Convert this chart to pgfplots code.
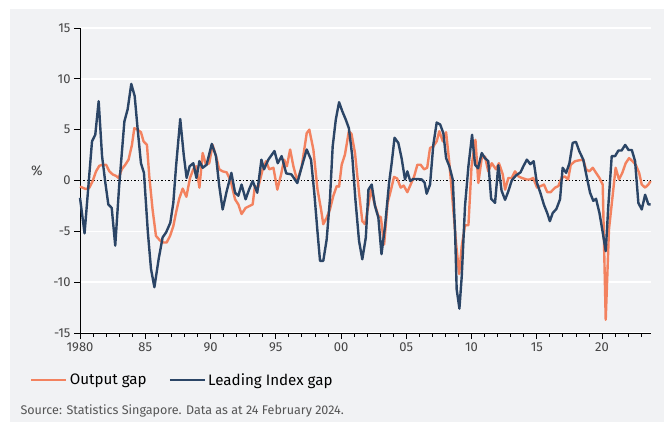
\documentclass[border=0pt]{standalone}
\usepackage{pgfplots}
\pgfplotsset{compat=1.18}
\usepackage{fontspec}
\setmainfont{Fira Sans}
\definecolor{bggrey}{RGB}{241,242,244}
\definecolor{ogap}{RGB}{243,130,95}
\definecolor{lgap}{RGB}{43,69,102}
\definecolor{ticktext}{RGB}{68,68,68}
\definecolor{srctext}{RGB}{85,85,85}
\begin{document}
\begin{tikzpicture}
\path[use as bounding box] (0,0) rectangle (664bp,422bp);
\fill[white] (0,0) rectangle (664bp,422bp);
\fill[bggrey] (10bp,0) rectangle (664bp,413bp);
\begin{axis}[
  at={(80bp,89bp)}, anchor=south west,
  scale only axis, width=571bp, height=305bp,
  xmin=1980, xmax=2023.75, ymin=-15, ymax=15,
  axis x line*=bottom, axis y line*=left,
  axis line style={black, line width=0.9bp, -},
  xtick={1980,1985,...,2020},
  xticklabels={1980,85,90,95,00,05,10,15,20},
  minor xtick={1981,...,2023},
  ytick={-15,-10,-5,5,10,15},
  yticklabels={-15,-10,-5,5,10,15},
  extra y ticks={0}, extra y tick labels={0},
  extra y tick style={grid=major, major grid style={black, dotted, line width=1.4bp}},
  ymajorgrids, major grid style={white, line width=1.4bp},
  tick align=outside,
  major tick length=6bp, minor tick length=4bp,
  tick style={black, line width=0.8bp},
  every tick label/.append style={font=\fontsize{13}{15}\selectfont, text=ticktext},
  legend style={at={(-0.0876,-0.154)}, anchor=west, draw=none, fill=none,
    font=\fontsize{15.2}{18}\selectfont, legend columns=2, inner sep=0pt,
    /tikz/every even column/.append style={column sep=20bp}},
  legend image code/.code={\draw[#1, line width=2.6bp] (0bp,0bp) -- (35bp,0bp);},
  legend cell align=left,
  clip=false,
]
\addplot[ogap, line width=2.4bp, line join=round] coordinates {
(1980.0,-0.6) (1980.46,-0.85) (1980.72,-0.7) (1980.97,-0.05) (1981.23,0.9) (1981.48,1.45) (1981.74,1.55) (1982.0,1.55)
(1982.25,0.9) (1982.5,0.6) (1982.76,0.45) (1982.96,0.25) (1983.2,1.1) (1983.47,1.55) (1983.72,2.05) (1983.98,3.5)
(1984.16,5.15) (1984.4,5.0) (1984.67,4.75) (1984.87,3.85) (1985.13,3.5) (1985.31,0.4) (1985.56,-2.85) (1985.82,-5.45)
(1986.13,-5.9) (1986.38,-6.1) (1986.64,-6.1) (1986.9,-5.45) (1987.15,-4.5) (1987.35,-3.2) (1987.6,-1.8) (1987.87,-0.8)
(1988.15,-1.6) (1988.43,0.25) (1988.68,1.1) (1988.9,1.4) (1989.15,-0.7) (1989.4,2.7) (1989.65,1.55) (1989.9,1.7)
(1990.16,3.5) (1990.42,2.4) (1990.67,1.1) (1990.93,0.9) (1991.24,0.8) (1991.55,-0.05) (1991.88,-1.85) (1992.13,-2.35)
(1992.38,-3.3) (1992.69,-2.7) (1993.0,-2.5) (1993.23,-2.35) (1993.4,-0.55) (1993.65,-0.7) (1994.0,1.1) (1994.25,1.9)
(1994.5,1.1) (1994.82,1.25) (1995.12,-0.9) (1995.4,0.55) (1995.64,2.05) (1995.85,1.4) (1996.1,3.05) (1996.35,1.4)
(1996.65,-0.05) (1996.99,1.4) (1997.37,4.65) (1997.57,5.0) (1997.88,3.05) (1998.2,-0.9) (1998.47,-2.85) (1998.64,-4.3)
(1998.9,-3.65) (1999.15,-2.85) (1999.4,-1.55) (1999.67,-0.55) (1999.85,-0.6) (2000.05,1.55) (2000.3,2.55) (2000.6,4.85)
(2000.8,4.6) (2001.07,2.7) (2001.38,-1.2) (2001.63,-4.0) (2001.84,-4.3) (2002.09,-2.5) (2002.3,-0.9) (2002.55,-2.2)
(2002.86,-3.5) (2003.05,-3.6) (2003.3,-6.3) (2003.57,-2.2) (2003.83,-0.9) (2004.06,0.35) (2004.3,0.2) (2004.57,-0.7)
(2004.8,-0.5) (2005.08,-1.15) (2005.3,-0.5) (2005.6,0.4) (2005.85,1.55) (2006.1,1.55) (2006.36,1.1) (2006.6,1.25)
(2006.82,3.2) (2007.07,3.35) (2007.33,3.85) (2007.53,4.85) (2007.8,3.85) (2008.05,4.75) (2008.3,1.7) (2008.56,-2.2)
(2008.81,-6.1) (2009.05,-9.2) (2009.25,-6.45) (2009.5,-4.4) (2009.76,-4.4) (2010.0,1.4) (2010.3,4.0) (2010.52,-0.25)
(2010.78,2.2) (2011.03,2.35) (2011.28,0.9) (2011.55,1.7) (2011.87,1.1) (2012.1,1.7) (2012.39,0.6) (2012.57,-0.9)
(2012.82,0.25) (2013.08,0.25) (2013.33,0.9) (2013.6,0.4) (2013.85,0.25) (2014.22,0.1) (2014.47,0.1) (2014.72,0.25)
(2015.02,-0.7) (2015.3,-0.55) (2015.55,-0.4) (2015.8,-1.15) (2016.06,-1.15) (2016.4,-0.7) (2016.65,-0.55) (2016.9,0.25)
(2017.15,0.4) (2017.4,0.1) (2017.6,1.55) (2017.93,1.9) (2018.3,2.0) (2018.56,2.05) (2018.77,1.1) (2019.03,0.9)
(2019.29,1.25) (2019.54,0.75) (2019.8,0.25) (2020.05,-0.4) (2020.28,-13.7) (2020.53,-4.8) (2020.78,-1.85) (2021.04,1.25)
(2021.3,0.1) (2021.55,0.75) (2021.81,1.7) (2022.07,2.2) (2022.33,1.9) (2022.58,1.55) (2022.84,0.75) (2023.04,-0.4)
(2023.3,-0.7) (2023.55,-0.4) (2023.72,-0.05)
};
\addlegendentry{Output gap}
\addplot[lgap, line width=2.4bp, line join=round] coordinates {
(1980.0,-1.7) (1980.35,-5.2) (1980.92,3.85) (1981.17,4.5) (1981.43,7.8) (1981.69,2.4) (1981.94,-0.2) (1982.17,-2.35)
(1982.43,-2.7) (1982.7,-6.4) (1983.0,-0.55) (1983.4,5.8) (1983.65,7.0) (1983.93,9.5) (1984.19,8.3) (1984.4,5.3)
(1984.67,1.7) (1984.9,0.75) (1985.2,-5.1) (1985.44,-8.7) (1985.7,-10.5) (1986.03,-7.7) (1986.33,-5.6) (1986.6,-5.1)
(1986.92,-4.15) (1987.15,-2.2) (1987.36,1.4) (1987.68,6.05) (1987.95,2.5) (1988.17,0.25) (1988.4,1.4) (1988.68,1.7)
(1988.92,0.25) (1989.15,1.9) (1989.4,1.25) (1989.7,1.55) (1990.1,3.6) (1990.42,2.4) (1990.67,-0.55) (1990.93,-2.85)
(1991.24,-1.05) (1991.6,0.75) (1991.88,-1.2) (1992.13,-1.5) (1992.38,-0.4) (1992.69,-1.85) (1992.95,-0.9) (1993.23,-0.05)
(1993.58,-1.2) (1993.9,2.05) (1994.1,1.1) (1994.43,2.05) (1994.9,2.9) (1995.15,1.7) (1995.45,2.4) (1995.8,0.7)
(1996.2,0.6) (1996.65,-0.25) (1997.0,1.4) (1997.37,3.05) (1997.7,2.05) (1997.95,-1.2) (1998.2,-5.1) (1998.39,-7.9)
(1998.64,-7.9) (1998.9,-5.8) (1999.15,-1.85) (1999.36,3.35) (1999.6,6.0) (1999.85,7.7) (2000.1,6.8) (2000.36,6.0)
(2000.6,5.15) (2000.86,2.4) (2001.1,-1.85) (2001.38,-5.95) (2001.63,-7.75) (2001.9,-5.6) (2002.1,-0.9) (2002.35,-0.4)
(2002.6,-2.5) (2002.86,-3.65) (2003.1,-7.25) (2003.37,-4.5) (2003.68,-0.25) (2003.88,1.7) (2004.1,4.2) (2004.39,3.7)
(2004.64,2.2) (2004.9,0.1) (2005.08,0.9) (2005.3,-0.05) (2005.54,0.15) (2005.85,0.15) (2006.18,0.1) (2006.4,-0.2)
(2006.56,-1.3) (2006.82,-0.4) (2007.07,3.5) (2007.33,5.7) (2007.6,5.5) (2007.84,4.65) (2008.05,2.2) (2008.3,1.4)
(2008.56,0.1) (2008.74,-5.1) (2008.86,-10.7) (2009.07,-12.6) (2009.25,-9.4) (2009.5,-2.5) (2009.76,1.4) (2010.04,4.5)
(2010.27,1.55) (2010.5,1.2) (2010.78,2.7) (2011.03,2.2) (2011.28,1.9) (2011.5,-1.8) (2011.8,-2.2) (2012.05,1.5)
(2012.3,-1.0) (2012.57,-1.9) (2012.82,-1.05) (2013.08,0.0) (2013.4,0.5) (2013.75,0.8) (2013.97,1.4) (2014.24,2.05)
(2014.5,1.6) (2014.76,1.9) (2015.0,-0.2) (2015.27,-1.2) (2015.55,-2.4) (2015.8,-3.2) (2016.0,-4.0) (2016.22,-3.2)
(2016.5,-2.8) (2016.78,-1.85) (2016.98,1.25) (2017.25,0.75) (2017.5,1.7) (2017.75,3.7) (2018.0,3.8) (2018.25,2.9)
(2018.56,2.05) (2018.82,0.4) (2019.08,-1.2) (2019.33,-2.0) (2019.54,-1.8) (2019.8,-3.2) (2020.05,-5.1) (2020.28,-6.95)
(2020.48,-2.5) (2020.74,2.4) (2021.0,2.4) (2021.25,2.95) (2021.5,2.95) (2021.77,3.5) (2022.03,3.0) (2022.28,3.0)
(2022.53,1.9) (2022.78,-2.2) (2023.04,-2.85) (2023.3,-1.4) (2023.55,-2.35) (2023.72,-2.35)
};
\addlegendentry{Leading Index gap}
\end{axis}
\node[font=\fontsize{14}{16}\selectfont, text=ticktext] at (37bp,251bp) {\%};
\node[anchor=west, font=\fontsize{12.6}{15}\selectfont, text=srctext] at (17bp,11bp) {Source: Statistics Singapore. Data as at 24 February 2024.};
\end{tikzpicture}
\end{document}
